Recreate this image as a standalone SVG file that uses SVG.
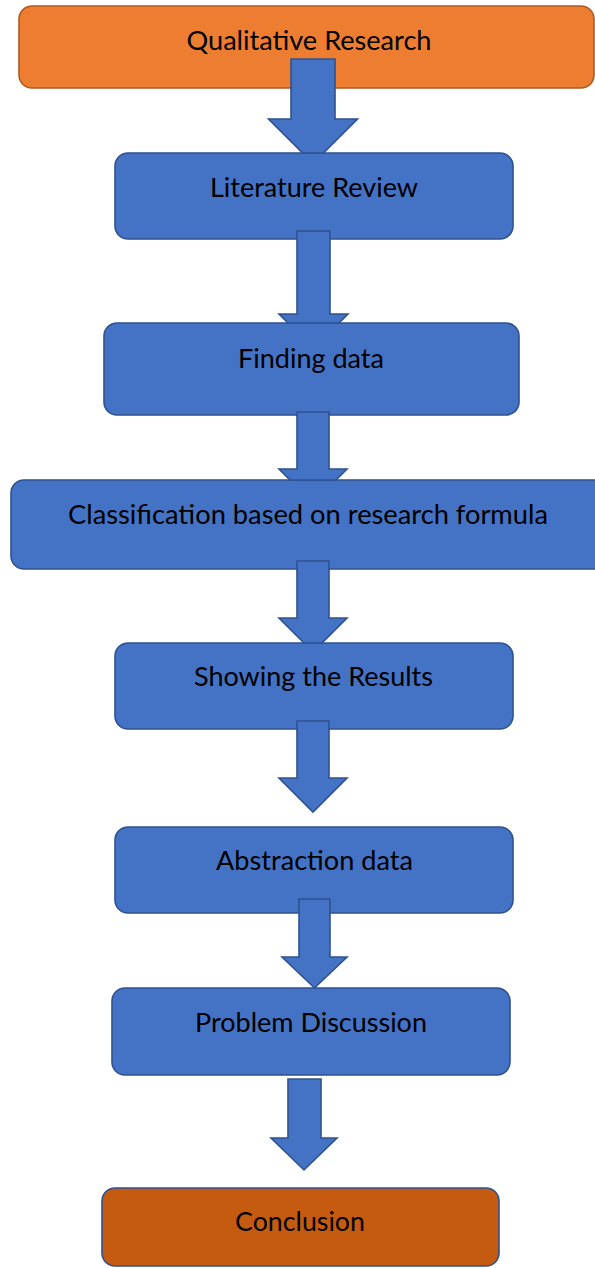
<svg xmlns="http://www.w3.org/2000/svg" width="595" height="1268" viewBox="0 0 595 1268">
  <style>
    .box { fill: #4472C4; stroke: #2F528F; stroke-width: 1.6; }
    .start { fill: #ED7D31; stroke: #AE5A21; stroke-width: 1.6; }
    .end { fill: #C55A11; stroke: #2F528F; stroke-width: 1.6; }
    .arrow { fill: #4472C4; stroke: #2F528F; stroke-width: 1.6; stroke-linejoin: miter; }
    .label { font-family: Lato, "Liberation Sans", sans-serif; font-size: 26.5px; fill: #000000; text-anchor: middle; }
  </style>
  <rect width="595" height="1268" fill="#FFFFFF"/>

  <g id="node-qualitative-research">
    <rect class="start" x="19" y="6" width="575" height="82" rx="13" ry="13"/>
    <text class="label" x="309" y="50" textLength="245" lengthAdjust="spacingAndGlyphs">Qualitative Research</text>
  </g>
  <g id="node-literature-review">
    <rect class="box" x="115" y="153" width="398" height="86" rx="13" ry="13"/>
    <text class="label" x="314" y="197" textLength="208" lengthAdjust="spacingAndGlyphs">Literature Review</text>
  </g>
  <g id="node-finding-data">
    <rect class="box" x="104" y="323" width="415" height="92" rx="13" ry="13"/>
    <text class="label" x="311" y="368" textLength="146" lengthAdjust="spacingAndGlyphs">Finding data</text>
  </g>
  <g id="node-classification">
    <rect class="box" x="11" y="480" width="600" height="89" rx="13" ry="13"/>
    <text class="label" x="308" y="524" textLength="480" lengthAdjust="spacingAndGlyphs">Classification based on research formula</text>
  </g>
  <g id="node-showing-results">
    <rect class="box" x="115" y="643" width="398" height="86" rx="13" ry="13"/>
    <text class="label" x="313.5" y="686" textLength="239" lengthAdjust="spacingAndGlyphs">Showing the Results</text>
  </g>
  <g id="node-abstraction-data">
    <rect class="box" x="115" y="827" width="398" height="86" rx="13" ry="13"/>
    <text class="label" x="314.5" y="870" textLength="197" lengthAdjust="spacingAndGlyphs">Abstraction data</text>
  </g>
  <g id="node-problem-discussion">
    <rect class="box" x="112" y="988" width="398" height="87" rx="13" ry="13"/>
    <text class="label" x="311" y="1032" textLength="232" lengthAdjust="spacingAndGlyphs">Problem Discussion</text>
  </g>
  <g id="node-conclusion">
    <rect class="end" x="102" y="1188" width="397" height="78" rx="13" ry="13"/>
    <text class="label" x="300" y="1231" textLength="130" lengthAdjust="spacingAndGlyphs">Conclusion</text>
  </g>

  <g id="connectors">
    <polygon class="arrow" points="291,59 335,59 335,119 357.5,119 323.5,153 302.5,153 268.5,119 291,119"/>
    <polygon class="arrow" points="297,231 330,231 330,314 348,314 339,323 288,323 279,314 297,314"/>
    <polygon class="arrow" points="297,412 329,412 329,469 347,469 336,480 290,480 279,469 297,469"/>
    <polygon class="arrow" points="297,561 329,561 329,618 347,618 322,643 304,643 279,618 297,618"/>
    <polygon class="arrow" points="297,721 329,721 329,778 347,778 313,812 279,778 297,778"/>
    <polygon class="arrow" points="299,899 330,899 330,957 347,957 314.5,988 282,957 299,957"/>
    <polygon class="arrow" points="288,1079 321,1079 321,1138 337,1138 304,1170 271,1138 288,1138"/>
  </g>
</svg>
